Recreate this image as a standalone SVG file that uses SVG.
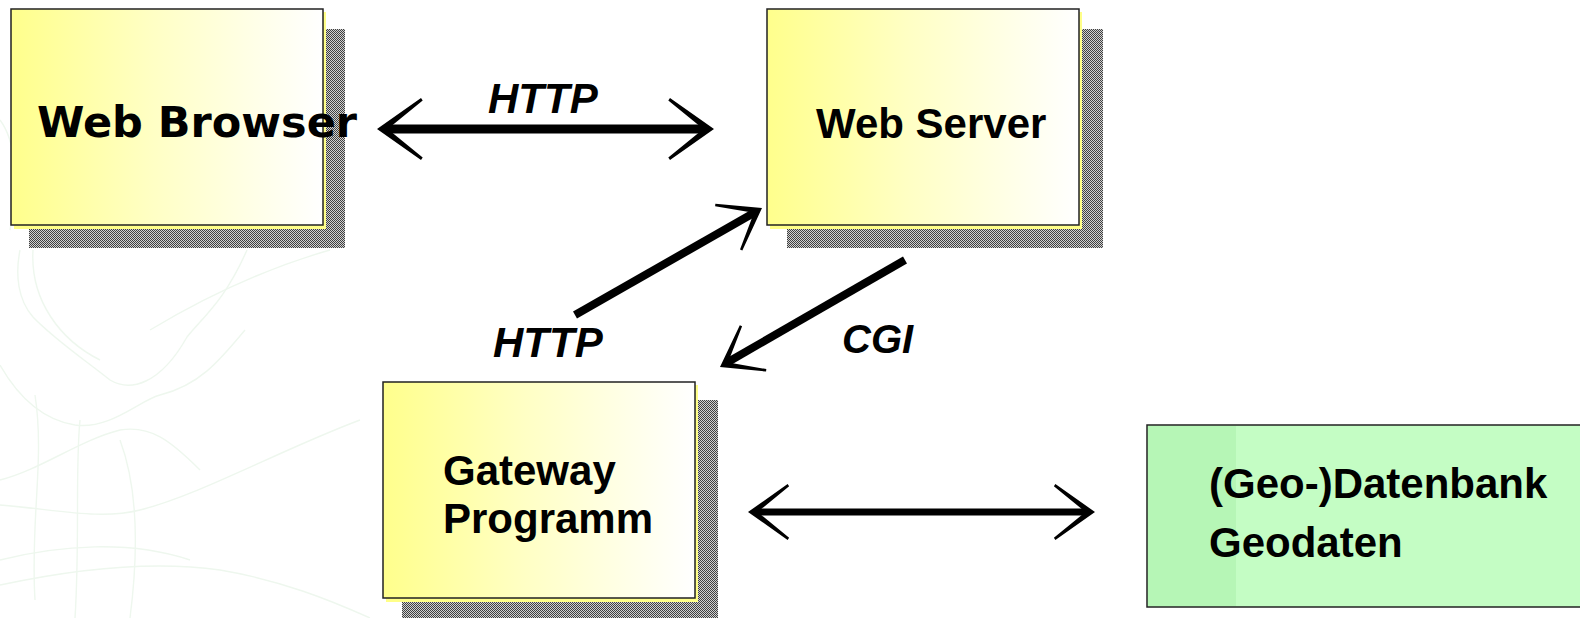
<svg xmlns="http://www.w3.org/2000/svg" width="1580" height="618" viewBox="0 0 1580 618">
  <style>
    .box { stroke: #222; stroke-width: 1.5; }
    .rim { fill: #ffff88; }
    .shadow { fill: url(#dither); }
    .label { font-family: "Liberation Sans", Arial, sans-serif; font-weight: bold; font-size: 42px; fill: #000; }
    .proto { font-family: "Liberation Sans", Arial, sans-serif; font-weight: bold; font-style: italic; fill: #000; }
    .shaft { stroke: #000; fill: none; stroke-linecap: butt; }
    .head { fill: #000; }
    .map { fill: none; stroke: #eef7ee; stroke-width: 1.4; }
  </style>
  <defs>
    <pattern id="dither" width="2" height="2" patternUnits="userSpaceOnUse">
      <rect width="2" height="2" fill="#d0d0d0"/>
      <rect width="1" height="1" fill="#404040"/>
      <rect x="1" y="1" width="1" height="1" fill="#404040"/>
    </pattern>
    <linearGradient id="sun" x1="0" y1="0" x2="1" y2="0">
      <stop offset="0" stop-color="#ffff8c"/>
      <stop offset="0.45" stop-color="#ffffc4"/>
      <stop offset="1" stop-color="#ffffff"/>
    </linearGradient>
    <!-- open arrowhead pointing right, tip at the origin; barbs taper toward their ends -->
    <path id="tip" class="head" d="M0 0 L-44 -31 L-45.7 -28.6 L-15 -3.5 L-15 3.5 L-45.7 28.6 L-44 31 Z"/>
  </defs>

  <rect width="1580" height="618" fill="#ffffff"/>

  <!-- faint map contours in the background -->
  <g id="backdrop">
    <path class="map" d="M20 250 C15 275 18 300 33 317 C55 340 85 360 110 380 C130 392 160 385 187 337 C205 315 225 300 247 250"/>
    <path class="map" d="M0 365 C20 400 45 420 75 425 C110 430 140 400 160 395 C200 385 220 360 245 330"/>
    <path class="map" d="M0 480 C40 470 80 440 120 430 C150 425 170 440 200 470"/>
    <path class="map" d="M33 250 C30 300 60 340 100 360"/>
    <path class="map" d="M0 505 C60 510 100 520 140 510 C200 495 280 450 360 420"/>
    <path class="map" d="M35 395 C45 460 30 520 35 600"/>
    <path class="map" d="M80 420 C75 470 80 540 75 618"/>
    <path class="map" d="M120 440 C135 480 140 540 130 618"/>
    <path class="map" d="M0 585 C70 570 150 560 220 570 C280 580 330 600 370 618"/>
    <path class="map" d="M0 560 C60 545 130 540 190 560"/>
    <path class="map" d="M150 330 C200 300 260 270 330 250"/>
    <path class="map" d="M0 120 C15 140 20 180 10 230"/>
  </g>

  <g id="web-browser">
    <rect class="shadow" x="29" y="29" width="316" height="219"/>
    <rect class="rim" x="14" y="12" width="312" height="217"/>
    <rect class="box" x="11" y="9" width="312" height="216" fill="url(#sun)"/>
    <text x="37" y="137" font-family="DejaVu Sans, Verdana, sans-serif" font-weight="bold" font-size="43" fill="#000">Web Browser</text>
  </g>

  <g id="web-server">
    <rect class="shadow" x="787" y="29" width="316" height="219"/>
    <rect class="rim" x="770" y="12" width="312" height="217"/>
    <rect class="box" x="767" y="9" width="312" height="216" fill="url(#sun)"/>
    <text class="label" x="816" y="138">Web Server</text>
  </g>

  <g id="gateway">
    <rect class="shadow" x="402" y="400" width="316" height="219"/>
    <rect class="rim" x="386" y="385" width="312" height="217"/>
    <rect class="box" x="383" y="382" width="312" height="216" fill="url(#sun)"/>
    <text class="label" x="443" y="485">Gateway</text>
    <text class="label" x="443" y="533">Programm</text>
  </g>

  <g id="geodatenbank">
    <rect class="box" x="1147" y="425" width="440" height="182" fill="#c4fdc4"/>
    <rect x="1148" y="426" width="88" height="180" fill="#b6f6b6"/>
    <text class="label" x="1209" y="498">(Geo-)Datenbank</text>
    <text class="label" x="1209" y="557">Geodaten</text>
  </g>

  <g id="connectors">
    <!-- browser <-> server -->
    <line class="shaft" x1="384" y1="129" x2="707" y2="129" stroke-width="9"/>
    <use href="#tip" transform="translate(377 129) rotate(180)"/>
    <use href="#tip" transform="translate(714 129)"/>
    <text class="proto" x="488" y="113" font-size="42">HTTP</text>

    <!-- gateway -> server -->
    <line class="shaft" x1="575" y1="315" x2="752" y2="214" stroke-width="8"/>
    <use href="#tip" transform="translate(762 208) rotate(-30) scale(0.87)"/>
    <text class="proto" x="493" y="357" font-size="42">HTTP</text>

    <!-- server -> gateway -->
    <line class="shaft" x1="905" y1="260" x2="728" y2="362" stroke-width="8"/>
    <use href="#tip" transform="translate(720 367) rotate(150.5) scale(0.86)"/>
    <text class="proto" x="842" y="353" font-size="40">CGI</text>

    <!-- gateway <-> database -->
    <line class="shaft" x1="755" y1="512" x2="1088" y2="512" stroke-width="7"/>
    <use href="#tip" transform="translate(748 512) rotate(180) scale(0.9)"/>
    <use href="#tip" transform="translate(1095 512) scale(0.9)"/>
  </g>
</svg>
